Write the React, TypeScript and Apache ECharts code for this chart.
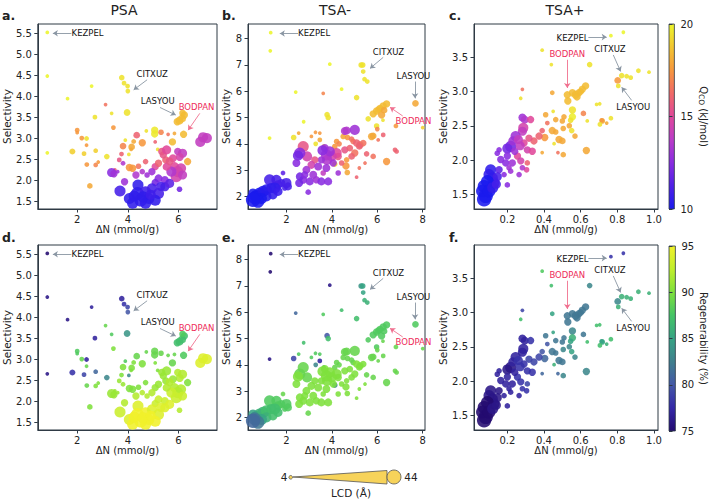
import React, { useEffect, useRef } from 'react';
import * as echarts from 'echarts';

// each point: [ΔN (mmol/g), selectivity, LCD (Å), Qco (kJ/mol), regenerability (%)]
const psaPoints = [
  [0.82, 5.52, 5, 20, 75], [0.82, 4.48, 5, 20, 76], [0.82, 2.65, 5, 20, 76], [1.62, 3.94, 5, 20, 76],
  [2.57, 4.24, 5, 20, 77], [2.70, 3.50, 7, 19.5, 77], [1.81, 2.68, 10, 19, 78], [2.27, 2.63, 7, 19, 79],
  [2.37, 2.99, 7, 19.5, 77], [2.73, 2.70, 7, 19, 81], [3.17, 2.56, 9, 19.5, 83], [3.36, 3.59, 5, 19.5, 88],
  [3.76, 4.44, 9, 19.5, 77], [3.85, 4.31, 7, 19.5, 78], [3.99, 4.24, 7, 19.5, 79], [4.00, 4.12, 7, 19.5, 80],
  [3.97, 3.61, 12, 19.5, 84], [3.90, 2.95, 5, 19.5, 88], [4.04, 2.61, 5, 19.5, 83], [4.73, 3.17, 5, 19.5, 89],
  [5.06, 3.19, 14, 19.7, 89], [5.06, 3.10, 14, 19.7, 89], [5.18, 2.73, 5, 19.5, 90], [3.12, 3.80, 5, 16.5, 89],
  [2.00, 3.19, 7, 17.5, 88], [2.00, 3.13, 5, 17.5, 88], [2.18, 3.00, 7, 17.5, 89], [2.37, 2.83, 5, 17.5, 89],
  [2.38, 2.37, 7, 17.5, 89], [2.73, 2.36, 7, 17, 90], [2.83, 2.43, 5, 17.5, 90], [2.50, 1.86, 9, 18, 90],
  [3.43, 3.25, 7, 17.5, 90], [3.81, 2.81, 12, 17, 90], [3.75, 2.62, 7, 16, 90], [3.66, 2.48, 7, 15.5, 91],
  [4.15, 2.79, 12, 18, 90], [4.23, 2.92, 7, 18, 90], [4.13, 2.73, 5, 18, 90], [4.35, 3.07, 12, 16, 89],
  [4.57, 2.89, 14, 17.5, 90], [5.08, 2.91, 5, 16, 90], [5.31, 3.14, 9, 17, 89], [5.59, 3.09, 5, 16.5, 89],
  [5.84, 3.11, 5, 18, 89], [5.76, 2.91, 14, 18.5, 89], [6.20, 3.09, 14, 18.5, 88],
  [5.95, 3.39, 14, 18.5, 87], [6.04, 3.42, 16, 18.5, 87], [6.14, 3.47, 16, 18.5, 87], [6.23, 3.55, 14, 18.5, 87],
  [6.16, 3.60, 12, 18.5, 88], [6.36, 2.44, 14, 18, 90], [5.50, 2.48, 14, 16, 91],
  [6.86, 2.91, 24, 14, 94], [6.97, 3.02, 24, 14, 94], [7.12, 3.00, 24, 14, 94],
  [5.34, 2.68, 14, 15.5, 91], [5.40, 2.60, 14, 15.5, 91], [5.53, 2.72, 20, 15, 91], [5.97, 2.68, 14, 14, 92],
  [6.16, 2.64, 20, 14, 92], [6.05, 2.55, 16, 14.5, 92], [5.78, 2.52, 16, 15, 91], [4.70, 2.44, 9, 16, 90],
  [4.42, 2.33, 9, 16.5, 90], [4.19, 2.28, 14, 17.5, 90], [4.06, 2.30, 14, 17.5, 90], [3.81, 2.40, 7, 13.5, 91],
  [3.49, 2.24, 5, 16, 91], [3.60, 2.20, 5, 13, 91], [5.08, 2.32, 14, 15, 91], [5.21, 2.40, 14, 16, 91],
  [5.84, 2.32, 20, 15, 92], [5.97, 2.20, 28, 14.5, 92], [6.10, 2.28, 24, 14.5, 92], [5.91, 2.08, 28, 14.5, 93],
  [6.16, 2.12, 20, 14, 93], [5.72, 2.20, 24, 13.5, 93], [5.53, 2.32, 16, 15, 92], [5.65, 2.45, 16, 15.5, 92],
  [4.95, 2.20, 14, 13, 92], [4.76, 2.12, 9, 13, 92], [4.57, 2.20, 9, 13.5, 92], [5.21, 2.04, 16, 12.5, 93],
  [5.46, 2.00, 16, 12.5, 93], [5.08, 1.94, 14, 12, 93], [3.87, 1.96, 14, 13, 92], [4.32, 2.12, 14, 13.5, 92],
  [3.36, 2.18, 20, 12.5, 91], [3.45, 2.15, 14, 13, 91],
  [3.69, 1.74, 28, 11, 93], [4.06, 1.56, 28, 10.5, 94], [4.40, 1.88, 28, 10.5, 94], [4.38, 1.68, 36, 10.5, 95],
  [4.51, 1.52, 36, 10.5, 95], [4.70, 1.72, 28, 10.8, 95], [4.83, 1.56, 28, 10.5, 95], [4.95, 1.80, 24, 11, 94],
  [5.21, 1.68, 28, 11, 94], [5.08, 1.52, 28, 10.5, 95], [4.19, 1.45, 28, 10.5, 95], [4.70, 1.45, 28, 10.5, 95],
  [5.46, 1.84, 20, 11, 94], [5.65, 1.92, 20, 11.5, 94], [4.25, 1.62, 28, 10.5, 95], [4.60, 1.60, 28, 10.5, 95],
  [4.90, 1.65, 24, 10.8, 95], [5.30, 1.85, 20, 11, 94], [6.04, 1.78, 9, 12, 92],
];

const tsaMinusPoints = [
  [1.31, 8.23, 5, 20, 75], [1.29, 7.54, 5, 20, 75], [1.26, 4.22, 5, 20, 76], [2.41, 5.97, 5, 20, 81],
  [2.76, 4.84, 5, 20, 87], [2.32, 4.24, 9, 19.5, 79], [2.54, 4.41, 5, 18, 88], [3.91, 7.03, 5, 20, 76],
  [4.43, 6.08, 5, 20, 87], [3.62, 5.92, 5, 17, 88], [3.79, 5.11, 9, 19.5, 80], [3.84, 5.00, 9, 19.5, 87],
  [3.65, 3.92, 5, 19.5, 88], [3.47, 4.15, 7, 18, 77], [3.29, 4.00, 7, 19.5, 83],
  [5.29, 7.00, 9, 19.5, 84], [5.36, 7.00, 9, 19.5, 85], [5.38, 6.75, 7, 19.5, 85], [5.44, 6.46, 7, 19.5, 86],
  [5.56, 6.37, 7, 19.5, 86], [5.09, 5.76, 9, 19.5, 87], [5.60, 4.95, 9, 19.5, 88], [5.97, 4.68, 9, 19.5, 88],
  [6.25, 4.90, 5, 19.5, 89], [8.00, 4.62, 5, 19, 89], [4.13, 3.23, 9, 19.5, 83], [7.68, 5.54, 12, 18, 88],
  [5.82, 5.14, 14, 18.5, 88], [5.97, 5.25, 14, 18.5, 88], [6.12, 5.35, 14, 18.5, 88], [6.26, 5.44, 14, 18.5, 88],
  [6.41, 5.52, 14, 18.5, 88], [6.19, 5.10, 14, 18, 88], [6.05, 5.30, 12, 18.5, 88], [6.30, 5.28, 12, 18, 88],
  [6.00, 4.56, 7, 17, 89], [5.75, 4.28, 14, 18, 89], [5.82, 4.30, 12, 18, 89], [6.82, 4.68, 7, 17.5, 89],
  [6.41, 3.33, 14, 17.5, 89], [6.78, 3.77, 7, 16, 89], [6.85, 3.71, 7, 16, 89], [6.26, 4.34, 7, 16, 89],
  [6.04, 4.15, 5, 16.5, 89], [4.50, 4.28, 9, 18, 89], [4.69, 4.24, 9, 17.5, 89], [4.87, 4.18, 9, 16.5, 89],
  [4.94, 4.09, 9, 16.5, 89], [5.09, 4.03, 14, 16, 90], [5.24, 3.96, 14, 16, 90], [5.38, 4.03, 12, 16.5, 90],
  [5.21, 3.90, 12, 16, 90], [4.57, 3.77, 14, 15.5, 90], [4.79, 3.84, 12, 16, 90], [5.01, 3.65, 14, 16.5, 90],
  [4.87, 3.52, 12, 16, 90], [4.65, 3.39, 9, 17.5, 90], [4.62, 3.16, 14, 17.5, 90], [4.68, 2.91, 9, 18, 90],
  [4.43, 3.27, 9, 16, 90], [5.09, 2.73, 5, 16, 90], [5.21, 3.08, 5, 16.5, 90], [5.46, 3.27, 5, 16.5, 90],
  [5.82, 3.52, 9, 16.5, 89], [5.53, 3.62, 9, 16, 89], [3.47, 4.41, 5, 17.5, 88], [3.10, 4.28, 5, 17.5, 88],
  [3.28, 4.44, 5, 17.5, 88], [4.21, 4.09, 9, 17.5, 89], [4.13, 3.90, 9, 17.5, 89], [4.32, 4.00, 9, 17, 89],
  [4.28, 3.52, 14, 15.5, 90], [4.57, 4.49, 16, 13.5, 89], [4.65, 4.51, 16, 13.5, 89], [5.01, 4.53, 24, 13, 89],
  [4.21, 3.65, 24, 15, 90], [3.99, 3.52, 24, 14.5, 90], [3.76, 3.58, 28, 13.5, 90], [3.79, 3.39, 24, 13.5, 90],
  [4.06, 3.27, 14, 13, 90], [3.69, 3.84, 16, 13, 90], [3.91, 3.71, 24, 13, 90], [3.59, 3.75, 24, 12.5, 90],
  [3.54, 3.39, 14, 13, 90], [3.25, 3.39, 14, 15.5, 90], [3.10, 3.20, 16, 14.5, 90], [2.91, 3.52, 24, 14.5, 89],
  [2.74, 3.90, 28, 15.5, 89], [2.59, 3.65, 28, 12.5, 89], [2.51, 3.55, 24, 12, 90], [2.44, 3.27, 16, 12.5, 90],
  [2.88, 3.01, 16, 13, 90], [2.74, 2.63, 16, 12.5, 90], [2.59, 2.76, 16, 12, 90], [3.03, 2.57, 16, 12.5, 90],
  [3.18, 2.82, 16, 13, 90], [3.32, 2.63, 14, 13, 90], [3.54, 2.57, 16, 12.5, 90], [3.84, 2.57, 16, 12.5, 90],
  [3.62, 2.89, 9, 14, 90], [2.96, 2.16, 9, 12.5, 89], [2.81, 2.82, 14, 12.5, 90], [2.56, 2.51, 16, 12, 90],
  [3.76, 3.08, 16, 13, 90], [3.40, 3.14, 16, 13, 90], [4.28, 2.89, 9, 13, 90], [1.85, 2.89, 7, 11.5, 89],
  [1.26, 2.63, 28, 11, 88], [1.56, 2.63, 24, 11, 88], [1.63, 2.44, 20, 11, 88], [2.00, 2.51, 24, 11, 88],
  [2.07, 2.38, 16, 11, 88], [1.78, 2.51, 16, 11, 88], [0.68, 2.00, 36, 10, 85], [0.82, 2.13, 28, 10, 86],
  [0.97, 2.19, 28, 10.2, 86], [1.12, 2.25, 28, 10.3, 87], [1.34, 2.32, 24, 10.5, 87], [1.49, 2.32, 28, 10.5, 87],
  [1.12, 2.00, 24, 10.2, 86], [0.53, 2.13, 20, 10, 85], [1.41, 2.06, 20, 10.5, 87], [1.63, 2.19, 20, 10.7, 87],
  [1.93, 2.32, 9, 11, 88], [0.90, 1.92, 28, 10, 85], [0.60, 1.95, 36, 10, 82], [0.75, 1.81, 36, 10, 82],
  [0.53, 1.87, 44, 10, 81],
];

const tsaPlusPoints = [
  [0.765, 3.81, 5, 20, 78], [0.833, 3.86, 5, 20, 78], [0.39, 3.60, 5, 19.5, 88], [0.44, 3.39, 5, 19.5, 87],
  [0.649, 3.39, 9, 19.5, 83], [0.282, 3.03, 5, 16.5, 79], [0.273, 2.90, 5, 19.5, 87], [0.445, 2.98, 7, 18, 85],
  [0.527, 2.95, 14, 18.5, 82], [0.530, 2.86, 14, 18.5, 82], [0.555, 2.98, 14, 18.5, 82], [0.573, 2.95, 16, 18.5, 82],
  [0.591, 2.98, 14, 18.5, 82], [0.609, 3.03, 14, 18.5, 82], [0.627, 3.08, 14, 18.5, 82], [0.580, 2.92, 14, 18.5, 82],
  [0.600, 3.00, 12, 18.5, 82], [0.704, 2.82, 5, 19.5, 87], [0.555, 2.73, 14, 19.5, 83], [0.555, 2.63, 14, 19.8, 86],
  [0.545, 2.58, 9, 19.5, 85], [0.45, 2.71, 5, 19.5, 85], [0.409, 2.66, 9, 18, 82], [0.464, 2.59, 9, 18, 82],
  [0.509, 2.63, 9, 18, 82], [0.500, 2.57, 9, 18, 82], [0.418, 2.54, 7, 16.5, 80], [0.615, 2.68, 9, 17, 82],
  [0.636, 2.57, 5, 19.5, 87], [0.718, 2.57, 9, 18, 85], [0.445, 2.43, 14, 18, 82], [0.464, 2.41, 9, 18, 82],
  [0.505, 2.46, 9, 18, 83], [0.538, 2.50, 9, 18, 83], [0.551, 2.43, 9, 19.5, 85], [0.569, 2.35, 9, 18, 83],
  [0.482, 2.30, 14, 18, 82], [0.500, 2.28, 12, 18, 82], [0.404, 2.33, 14, 17.5, 81], [0.390, 2.43, 9, 16, 80],
  [0.455, 2.24, 5, 19.5, 86], [0.476, 2.11, 5, 16.5, 81], [0.505, 2.08, 9, 18, 83], [0.631, 2.14, 14, 18, 83],
  [0.390, 2.11, 5, 18, 81], [0.373, 2.35, 14, 16, 79], [0.345, 2.28, 14, 16, 79], [0.318, 2.32, 14, 15.5, 79],
  [0.291, 2.25, 14, 15, 78], [0.309, 2.15, 14, 14.5, 78], [0.336, 2.13, 14, 15, 78], [0.282, 2.62, 16, 13, 77],
  [0.295, 2.59, 16, 13.5, 77], [0.327, 2.59, 14, 15, 78], [0.287, 2.47, 24, 14.5, 77], [0.282, 2.42, 20, 14, 77],
  [0.245, 2.35, 24, 13, 77], [0.218, 2.20, 28, 12, 76], [0.200, 2.17, 24, 12, 76], [0.200, 2.06, 14, 12.5, 77],
  [0.155, 2.15, 9, 12.5, 77], [0.145, 2.10, 9, 12.5, 77], [0.164, 2.01, 14, 12.5, 77], [0.191, 1.96, 14, 12.5, 77],
  [0.227, 1.96, 14, 13, 77], [0.255, 2.06, 14, 15, 78], [0.273, 1.99, 14, 14.5, 78], [0.309, 1.96, 9, 16, 79],
  [0.305, 1.86, 9, 15, 78], [0.282, 1.89, 9, 13.5, 78], [0.264, 1.79, 9, 13, 77], [0.209, 1.89, 9, 13, 77],
  [0.218, 1.84, 9, 13, 77], [0.182, 1.79, 9, 12.5, 77], [0.200, 1.64, 9, 12.5, 77], [0.240, 2.13, 14, 13, 77],
  [0.230, 2.28, 20, 13, 77], [0.270, 2.21, 20, 14, 78], [0.260, 2.30, 20, 14, 78],
  [0.109, 1.86, 28, 10.5, 76], [0.100, 1.79, 28, 10.5, 76], [0.118, 1.74, 28, 10.5, 76], [0.127, 1.67, 28, 10.5, 76],
  [0.091, 1.69, 36, 10, 75], [0.073, 1.62, 36, 10, 75], [0.064, 1.55, 36, 10, 75], [0.082, 1.48, 44, 10, 75],
  [0.073, 1.43, 44, 10, 75], [0.100, 1.55, 36, 10, 75], [0.145, 1.76, 20, 11, 76], [0.155, 1.86, 14, 11.5, 76],
  [0.120, 1.60, 28, 10.5, 76], [0.140, 1.65, 20, 11, 76],
  [0.824, 3.23, 9, 19.5, 86], [0.851, 3.22, 7, 19.5, 86], [0.873, 3.20, 7, 19.5, 86], [0.915, 3.30, 7, 19.5, 86],
  [0.973, 3.28, 5, 19.5, 86], [0.802, 3.16, 12, 17.5, 83], [0.805, 3.08, 7, 19.5, 86], [0.765, 2.61, 7, 19.5, 87],
  [0.742, 2.54, 5, 18, 86], [0.715, 2.58, 7, 17.5, 85], [0.705, 2.52, 7, 19.5, 87], [0.687, 2.81, 5, 19.5, 87],
];

// annotations: [label, textX, textY, arrowFromX, arrowFromY, arrowToX, arrowToY]
const psaNotes = [
  ['KEZPEL', 2.41, 5.5, 1.77, 5.5, 1.04, 5.5],
  ['CITXUZ', 4.96, 4.53, 4.76, 4.39, 4.23, 4.15],
  ['LASYOU', 5.18, 3.89, 5.27, 3.73, 5.89, 3.55],
  ['BODPAN', 6.71, 3.75, 6.84, 3.59, 6.38, 3.19],
];
const tsaMinusNotes = [
  ['KEZPEL', 3.22, 8.2, 2.51, 8.2, 1.71, 8.2],
  ['CITXUZ', 6.49, 7.48, 6.26, 7.29, 5.68, 6.87],
  ['LASYOU', 7.59, 6.6, 7.66, 6.37, 7.66, 5.73],
  ['BODPAN', 7.59, 4.87, 7.12, 5.06, 6.56, 5.39],
];
const tsaPlusNotes = [
  ['KEZPEL', 0.556, 3.78, 0.642, 3.79, 0.742, 3.79],
  ['CITXUZ', 0.76, 3.62, 0.778, 3.53, 0.818, 3.29],
  ['LASYOU', 0.887, 2.78, 0.878, 2.87, 0.824, 3.06],
  ['BODPAN', 0.527, 3.54, 0.527, 3.46, 0.527, 3.05],
];

const psaXTicks = [2, 4, 6];
const psaYTicks = [1.5, 2.0, 2.5, 3.0, 3.5, 4.0, 4.5, 5.0, 5.5];
const tsaMinusXTicks = [2, 4, 6, 8];
const tsaMinusYTicks = [2, 3, 4, 5, 6, 7, 8];
const tsaPlusXTicks = [0.2, 0.4, 0.6, 0.8, 1.0];
const tsaPlusYTicks = [1.5, 2.0, 2.5, 3.0, 3.5];
const qcoTicks = [10, 15, 20];
const regenTicks = [75, 80, 85, 90, 95];
const panelTitles = ['PSA', 'TSA-', 'TSA+'];
const panelLetters = ['a.', 'b.', 'c.', 'd.', 'e.', 'f.'];
const lcdLegend = [4, 44];

const FONT = 'DejaVu Sans';
const AXIS = '#2f3a45';
const qColors = ['#1a1aee', '#5020e6', '#8a2ce0', '#bb3cc8', '#e0489a', '#f06a68', '#f6973e', '#f2c530', '#ecf52c'];
const rColors = ['#230a70', '#3428a8', '#4458a6', '#40808e', '#37a484', '#45c466', '#7ee03c', '#c0ee2c', '#f0f02a'];

const sizeOf = (lcd: number) => Math.max(2.8, 2.4 * Math.sqrt(lcd) - 1.6);

export default function App() {
  const ref = useRef<HTMLDivElement>(null);
  useEffect(() => {
    if (!ref.current) return;
    const chart = echarts.init(ref.current, undefined, { renderer: 'svg' });

    const panels = [
      { pts: psaPoints, notes: psaNotes, x: [0.445, 7.52], y: [1.31, 5.72], xt: psaXTicks, yt: psaYTicks, xf: (v: number) => String(v), yf: (v: number) => v.toFixed(1), left: 32, width: 185, ygap: 20 },
      { pts: tsaMinusPoints, notes: tsaMinusNotes, x: [0.31, 8.1], y: [1.52, 8.56], xt: tsaMinusXTicks, yt: tsaMinusYTicks, xf: (v: number) => String(v), yf: (v: number) => String(v), left: 248, width: 177, ygap: 11 },
      { pts: tsaPlusPoints, notes: tsaPlusNotes, x: [0.018, 1.022], y: [1.29, 3.98], xt: tsaPlusXTicks, yt: tsaPlusYTicks, xf: (v: number) => v.toFixed(1), yf: (v: number) => v.toFixed(1), left: 474, width: 184, ygap: 18 },
    ];
    const rowTops = [24, 245];
    const H = 185;

    const grid: any[] = [];
    const xAxis: any[] = [];
    const yAxis: any[] = [];
    const series: any[] = [];

    rowTops.forEach((top, r) => {
      panels.forEach((p, c) => {
        const gi = r * 3 + c;
        grid.push({ left: p.left, top, width: p.width, height: H, show: true, borderColor: AXIS, borderWidth: 1, backgroundColor: 'rgba(0,0,0,0)' });
        xAxis.push({
          gridIndex: gi, type: 'value', min: p.x[0], max: p.x[1],
          axisLine: { show: true, lineStyle: { color: AXIS, width: 1 } },
          axisTick: { show: true, length: 3.5, lineStyle: { color: AXIS }, customValues: p.xt },
          axisLabel: { customValues: p.xt, formatter: p.xf, fontSize: 10, color: '#222', margin: 5, fontFamily: FONT },
          splitLine: { show: false },
          name: 'ΔN (mmol/g)', nameLocation: 'middle', nameGap: 14,
          nameTextStyle: { fontSize: 10, color: '#222', fontFamily: FONT },
        });
        yAxis.push({
          gridIndex: gi, type: 'value', min: p.y[0], max: p.y[1],
          axisLine: { show: true, lineStyle: { color: AXIS, width: 1 } },
          axisTick: { show: true, length: 3.5, lineStyle: { color: AXIS }, customValues: p.yt },
          axisLabel: { customValues: p.yt, formatter: p.yf, fontSize: 10, color: '#222', margin: 6, fontFamily: FONT },
          splitLine: { show: false },
          name: 'Selectivity', nameLocation: 'middle', nameGap: p.ygap,
          nameTextStyle: { fontSize: 10.5, color: '#222', fontFamily: FONT },
        });
        series.push({
          type: 'scatter', xAxisIndex: gi, yAxisIndex: gi, data: p.pts,
          symbolSize: (v: number[]) => sizeOf(v[2]),
          itemStyle: { opacity: 0.88 },
          silent: true, animation: false,
          markLine: {
            silent: true, animation: false, symbol: ['none', 'arrow'], symbolSize: 5,
            label: { show: false }, emphasis: { disabled: true },
            data: p.notes.map((n: any[]) => {
              const col = n[0] === 'BODPAN' ? '#f0708f' : '#8a96a3';
              return [
                { coord: [n[3], n[4]], lineStyle: { color: col, width: 0.9, type: 'solid' } },
                { coord: [n[5], n[6]], lineStyle: { color: col, width: 0.9, type: 'solid' } },
              ];
            }),
          },
          markPoint: {
            silent: true, animation: false, symbol: 'circle', symbolSize: 1,
            itemStyle: { color: 'rgba(0,0,0,0)' },
            data: p.notes.map((n: any[]) => ({
              coord: [n[1], n[2]], name: String(n[0]), value: String(n[0]),
              label: { show: true, position: 'inside', formatter: String(n[0]), fontSize: 8.5, fontFamily: FONT, color: n[0] === 'BODPAN' ? '#ee2c5a' : '#111' },
            })),
          },
        });
      });
    });

    // colorbars
    const bars = [
      { top: 24, min: 10, max: 20, ticks: qcoTicks, colors: qColors, name: '{m|Q}{s|CO}{m| (kJ/mol)}' },
      { top: 246, min: 75, max: 95, ticks: regenTicks, colors: rColors, name: 'Regenerability (%)' },
    ];
    bars.forEach((b, i) => {
      const gi = 6 + i;
      const stops = b.colors.map((c, k) => ({ offset: 1 - k / (b.colors.length - 1), color: c }));
      grid.push({ left: 669, top: b.top, width: 11, height: H, show: true, borderColor: AXIS, borderWidth: 0.8,
        backgroundColor: new echarts.graphic.LinearGradient(0, 0, 0, 1, stops.reverse()) });
      xAxis.push({ gridIndex: gi, type: 'value', show: false, min: 0, max: 1 });
      yAxis.push({
        gridIndex: gi, type: 'value', position: 'right', min: b.min, max: b.max,
        axisLine: { show: false },
        axisTick: { show: true, length: 3.5, lineStyle: { color: AXIS }, customValues: b.ticks },
        axisLabel: { customValues: b.ticks, fontSize: 10, color: '#222', margin: 6, fontFamily: FONT },
        splitLine: { show: false },
        name: b.name, nameLocation: 'middle', nameRotate: -90, nameGap: 16,
        nameTextStyle: { fontSize: 10, color: '#222', fontFamily: FONT,
          rich: { m: { fontSize: 10, fontFamily: FONT, color: '#222' }, s: { fontSize: 7.5, fontFamily: FONT, color: '#222', padding: [4, 0, 0, 0] } } },
      });
    });

    const txt = (text: string, x: number, y: number, fontSize: number, extra: any = {}) => ({
      type: 'text', x, y, silent: true,
      style: { text, fontSize, fontFamily: FONT, fill: '#222', align: 'center', verticalAlign: 'middle', textAlign: 'center', textVerticalAlign: 'middle', ...extra },
    });
    const letterPos = [[2, 15], [222, 15], [449, 15], [2, 237], [222, 237], [449, 237]];
    const graphic: any[] = [
      txt(panelTitles[0], 124, 10, 14),
      txt(panelTitles[1], 335, 10, 14),
      txt(panelTitles[2], 565, 10, 14),
      ...panelLetters.map((l, i) => txt(l, letterPos[i][0], letterPos[i][1], 12.5, { fontWeight: 'bold', align: 'left', textAlign: 'left' })),
      txt(String(lcdLegend[0]), 284, 477, 10.5),
      { type: 'polygon', silent: true, shape: { points: [[293, 477], [387, 470.5], [387, 484]] }, style: { fill: '#f7d35a', stroke: '#555', lineWidth: 0.8 } },
      { type: 'circle', silent: true, shape: { cx: 290.7, cy: 477.3, r: 1.8 }, style: { fill: '#f7d35a', stroke: '#555', lineWidth: 0.8 } },
      { type: 'circle', silent: true, shape: { cx: 394, cy: 477, r: 7 }, style: { fill: '#f7d35a', stroke: '#555', lineWidth: 0.8 } },
      txt(String(lcdLegend[1]), 411, 477, 10.5),
      txt('LCD (Å)', 351, 493, 10.5),
    ];

    chart.setOption({
      animation: false,
      textStyle: { fontFamily: FONT },
      grid, xAxis, yAxis, series, graphic,
      visualMap: [
        { type: 'continuous', show: false, min: 10, max: 20, dimension: 3, seriesIndex: [0, 1, 2], inRange: { color: qColors } },
        { type: 'continuous', show: false, min: 75, max: 95, dimension: 4, seriesIndex: [3, 4, 5], inRange: { color: rColors } },
      ],
    });
    return () => chart.dispose();
  }, []);
  return <div ref={ref} style={{ position: 'fixed', left: 0, top: 0, width: 709, height: 501, background: '#fff' }} />;
}
